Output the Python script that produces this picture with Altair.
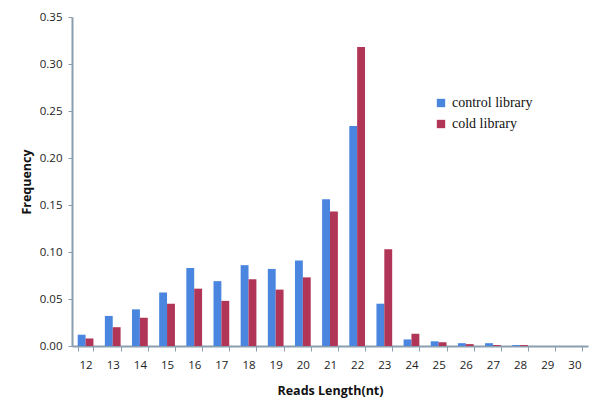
import altair as alt
import pandas as pd

lengths = [str(v) for v in range(12, 31)]
control = [0.012, 0.032, 0.039, 0.057, 0.083, 0.069, 0.086, 0.082, 0.091, 0.156,
           0.234, 0.045, 0.007, 0.005, 0.003, 0.003, 0.001, 0.0, 0.0]
cold = [0.008, 0.020, 0.030, 0.045, 0.061, 0.048, 0.071, 0.060, 0.073, 0.143,
        0.318, 0.103, 0.013, 0.004, 0.002, 0.001, 0.001, 0.0, 0.0]
series = ["control library", "cold library"]
colors = ["#4a86e0", "#b03556"]

rows = []
for i, L in enumerate(lengths):
    rows.append({"len": L, "lib": series[0], "freq": control[i]})
    rows.append({"len": L, "lib": series[1], "freq": cold[i]})
df = pd.DataFrame(rows)

axis_color = "#8a9eae"
chart = alt.Chart(df).mark_bar().encode(
    x=alt.X("len:N", sort=lengths, title="Reads Length(nt)",
            scale=alt.Scale(paddingInner=0.42, paddingOuter=0.21),
            axis=alt.Axis(labelAngle=0, tickBand="extent", domainColor=axis_color,
                          tickColor=axis_color, tickSize=5, labelPadding=8,
                          titlePadding=14)),
    xOffset=alt.XOffset("lib:N", sort=series),
    y=alt.Y("freq:Q", title="Frequency",
            scale=alt.Scale(domain=[0, 0.35], nice=False),
            axis=alt.Axis(values=[0, 0.05, 0.1, 0.15, 0.2, 0.25, 0.3, 0.35], format=".2f",
                          grid=False, domainColor=axis_color, tickColor=axis_color,
                          tickSize=4, labelPadding=6, titlePadding=6)),
    color=alt.Color("lib:N", sort=series,
                    scale=alt.Scale(domain=series, range=colors),
                    legend=alt.Legend(title=None, orient="none", legendX=362, legendY=79,
                                      symbolType="square", symbolSize=70,
                                      labelFont="Liberation Serif", labelFontSize=14,
                                      labelColor="#111", rowPadding=7)),
).properties(
    width=516, height=329,
    autosize=alt.AutoSizeParams(type="none"),
    padding={"left": 64, "top": 9, "right": 4, "bottom": 59},
).configure_view(stroke=None).configure_axis(
    labelFont="Open Sans", labelFontSize=11.5, labelColor="#222",
    titleFont="Open Sans", titleFontSize=12.5, titleFontWeight="bold", titleColor="#111",
    domainWidth=2,
)

chart.save("out.html", embed_options={"renderer": "svg", "actions": False})
